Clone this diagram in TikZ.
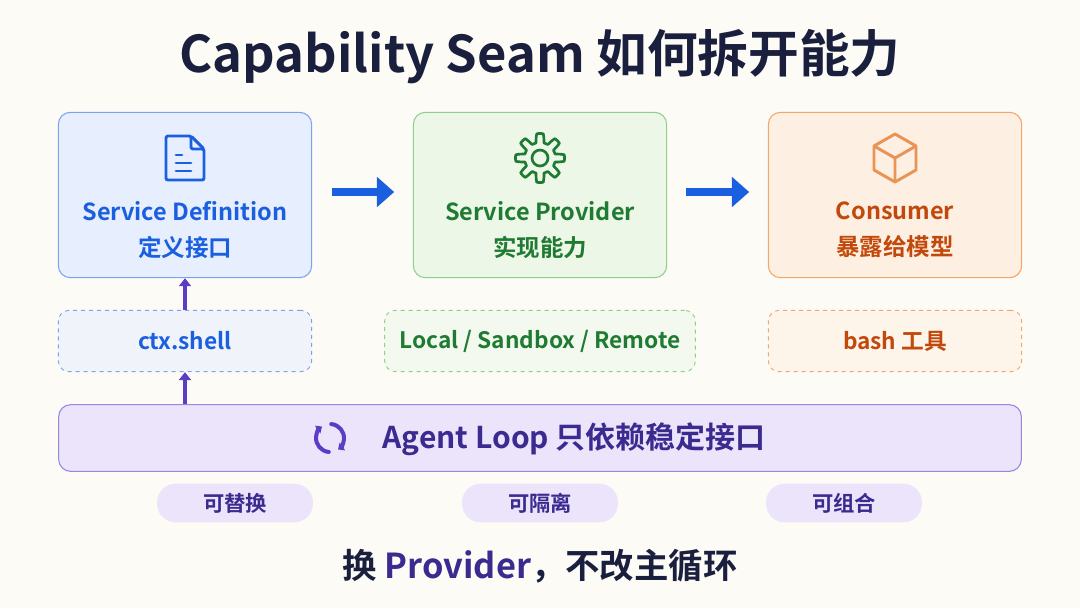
\documentclass[tikz,border=0pt]{standalone}
\usepackage{fontspec}
\setmainfont{Noto Sans CJK SC}[BoldFont={* Bold}]
\usetikzlibrary{positioning,arrows.meta}
\definecolor{bgc}{HTML}{FDFBF6}
\definecolor{ink}{HTML}{1A1F3D}
\definecolor{blueT}{HTML}{1A5FE0}
\definecolor{blueF}{HTML}{E7EEFD}
\definecolor{blueD}{HTML}{7AA3F0}
\definecolor{greenT}{HTML}{1F7A32}
\definecolor{greenF}{HTML}{ECF7E8}
\definecolor{greenD}{HTML}{8ED08A}
\definecolor{orT}{HTML}{C2490C}
\definecolor{orF}{HTML}{FDEFE2}
\definecolor{orD}{HTML}{F4A56A}
\definecolor{puT}{HTML}{3B2A8F}
\definecolor{puF}{HTML}{ECE4FA}
\definecolor{puD}{HTML}{9A85E0}
\definecolor{puA}{HTML}{5B3CC4}
\tikzset{
  card/.style={rounded corners=9pt, line width=0.8pt, minimum width=190pt, minimum height=124pt},
  dashbox/.style={rounded corners=8pt, dashed, line width=0.7pt, minimum height=46pt},
  pill/.style={rounded corners=14pt, fill=puF, minimum width=117pt, minimum height=29pt, font=\bfseries\fontsize{16}{18}\selectfont, text=puT},
  lbl/.style={font=\bfseries\fontsize{17.6}{27}\selectfont, align=center},
  bigarrow/.style={-{Triangle[length=13pt,width=22pt]}, line width=6pt, blueT},
  uparrow/.style={-{Triangle[length=6pt,width=9pt]}, line width=2.4pt, puA}
}
\begin{document}
\begin{tikzpicture}[x=0.75pt,y=-0.75pt]
  \fill[bgc] (0,0) rectangle (1080,608);
  \node[font=\bfseries\fontsize{38}{44}\selectfont, text=ink] (title) at (540,57) {Capability Seam 如何拆开能力};
  % top cards
  \node[card, draw=blueD, fill=blueF] (def) at (185,195) {};
  \node[card, draw=greenD, fill=greenF] (prov) at (540,195) {};
  \node[card, draw=orD, fill=orF] (cons) at (895,195) {};
  \node[lbl, text=blueT] (defT) at (185,230) {Service Definition\\定义接口};
  \node[lbl, text=greenT] (provT) at (540,230) {Service Provider\\实现能力};
  \node[lbl, text=orT] (consT) at (895,230) {Consumer\\暴露给模型};
  % icons
  \begin{scope}[shift={(185,158)}, blueT, line width=2.2pt, line join=round, rounded corners=1.5pt]
    \draw (-19,-22) -- (6,-22) -- (19,-9) -- (19,22) -- (-19,22) -- cycle;
    \draw (6,-22) -- (6,-9) -- (19,-9);
    \draw[line cap=round] (-9,-3) -- (-3,-3) (-9,5) -- (6,5) (-9,13) -- (6,13);
  \end{scope}
  \begin{scope}[shift={(540,158)}, greenT, line width=2pt, line join=round]
    \draw plot[domain=0:360, samples=97, smooth cycle] (\x:{20+4.5*tanh(6*cos(8*\x))});
    \draw (0,0) circle (8);
  \end{scope}
  \begin{scope}[shift={(895,158)}, orD!80!orT, line width=2.2pt, line join=round]
    \draw (0,-24) -- (21,-12) -- (21,12) -- (0,24) -- (-21,12) -- (-21,-12) -- cycle;
    \draw (-21,-12) -- (0,0) -- (21,-12) (0,0) -- (0,24);
  \end{scope}
  \draw[bigarrow] (def.east) ++(20,-3) -- ++(62,0);
  \draw[bigarrow] (prov.east) ++(19,-3) -- ++(63,0);
  % dashed layer
  \node[dashbox, draw=blueD, fill=blueF!60!bgc, minimum width=190pt, lbl, text=blueT] (shell) at (185,341) {\fontsize{17}{20}\selectfont ctx.shell};
  \node[dashbox, draw=greenD, fill=greenF!60!bgc, minimum width=233pt, lbl, text=greenT] (impl) at (540,341) {\fontsize{17}{20}\selectfont Local / Sandbox / Remote};
  \node[dashbox, draw=orD, fill=orF!60!bgc, minimum width=190pt, lbl, text=orT] (tool) at (895,341) {\fontsize{17}{20}\selectfont bash 工具};
  % agent loop
  \node[rounded corners=9pt, draw=puD, fill=puF, line width=0.8pt, minimum width=722pt, minimum height=50pt] (loop) at (540,438) {};
  \node[font=\bfseries\fontsize{22.5}{26}\selectfont, text=puT, anchor=west] (loopT) at (378,439) {Agent Loop 只依赖稳定接口};
  \begin{scope}[shift={(330,438)}, puA, line width=3pt, line cap=round]
    \draw[-{Triangle[length=4pt,width=7pt]}] (95:14) arc (95:235:14);
    \draw[-{Triangle[length=4pt,width=7pt]}] (275:14) arc (275:415:14);
  \end{scope}
  \draw[uparrow] (185,404) -- (shell.south);
  \draw[uparrow] (shell.north) -- (def.south);
  % pills
  \node[pill] (swap) at (235,503) {可替换};
  \node[pill] (iso) at (540,503) {可隔离};
  \node[pill] (comp) at (844,503) {可组合};
  \node[font=\bfseries\fontsize{25.8}{30}\selectfont, text=ink] (foot) at (540,566) {换 \textcolor{puT}{Provider}，不改主循环};
\end{tikzpicture}
\end{document}
